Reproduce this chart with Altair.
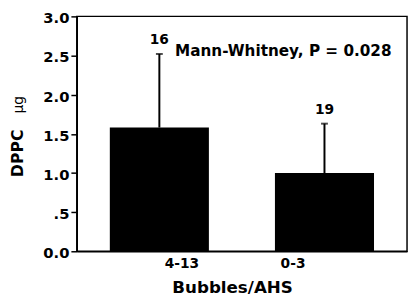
import altair as alt
import pandas as pd

# ---- data ----
groups = ["4-13", "0-3"]
means = [1.58, 1.00]
err_tops = [2.52, 1.63]
n_labels = ["16", "19"]
y_ticks = [0.0, 0.5, 1.0, 1.5, 2.0, 2.5, 3.0]
annotation = ["Mann-Whitney, P = 0.028"]
y_title_main = ["DPPC"]
y_title_unit = ["μg"]

df = pd.DataFrame({"group": groups, "mean": means, "top": err_tops, "n": n_labels})

FONT = "DejaVu Sans"
W, H = 336, 239

x_axis = alt.Axis(
    title="Bubbles/AHS",
    labelAngle=0,
    ticks=False,
    labelPadding=6,
    labelOffset={"condition": {"test": "datum.value == '4-13'", "value": 23}, "value": -32},
    titlePadding=9,
    titleX=158,
    titleFontSize=17,
    labelFontSize=14,
)
x_scale = alt.Scale(paddingInner=0.4, paddingOuter=0.2)

y_axis = alt.Axis(
    title=None,
    values=y_ticks,
    labelExpr="datum.value == 0.5 ? '.5' : format(datum.value, '.1f')",
    labelOverlap=False,
    grid=False,
    tickSize=6,
    tickWidth=1.5,
    tickColor="black",
    labelPadding=2,
    labelOffset=1.5,
    labelFontSize=15,
)
y_scale = alt.Scale(domain=[0, 3], nice=False, zero=True)


def X():
    return alt.X("group:N", sort=groups, scale=x_scale, axis=x_axis)


def Y(field):
    return alt.Y(field, scale=y_scale, axis=y_axis)


base = alt.Chart(df)

bars = base.mark_bar(color="black").encode(x=X(), y=Y("mean:Q"))
rules = base.mark_rule(color="black", strokeWidth=2).encode(
    x=X(), y=Y("mean:Q"), y2="top:Q"
)
caps = base.mark_tick(color="black", size=7, thickness=2).encode(x=X(), y=Y("top:Q"))
ns = base.mark_text(font=FONT, fontWeight="bold", fontSize=14, color="black", dy=-14).encode(
    x=X(), y=Y("top:Q"), text="n:N"
)

ann = alt.Chart(pd.DataFrame({"t": annotation})).mark_text(
    font=FONT, fontWeight="bold", fontSize=15.5, color="black", align="left", baseline="middle"
).encode(x=alt.value(100), y=alt.datum(2.56, scale=y_scale, axis=y_axis), text="t:N")

ytitle1 = alt.Chart(pd.DataFrame({"t": y_title_main})).mark_text(
    font=FONT, fontWeight="bold", fontSize=16, color="black", angle=270,
    align="center", baseline="alphabetic"
).encode(x=alt.value(-55), y=alt.value(H * 0.583), text="t:N")

ytitle2 = alt.Chart(pd.DataFrame({"t": y_title_unit})).mark_text(
    font=FONT, fontWeight="normal", fontSize=14, color="black", angle=270,
    align="center", baseline="alphabetic"
).encode(x=alt.value(-55), y=alt.value(H * 0.376), text="t:N")

chart = (
    alt.layer(bars, rules, caps, ns, ann, ytitle1, ytitle2)
    .properties(width=W, height=H, padding={"left": 2, "top": 0, "right": 2, "bottom": 0})
    .configure_view(stroke="black", strokeWidth=1.5)
    .configure_axis(
        labelFont=FONT,
        titleFont=FONT,
        labelFontWeight="bold",
        titleFontWeight="bold",
        labelColor="black",
        titleColor="black",
        domainColor="black",
        domainWidth=1.5,
    )
)

chart.save("out.html", embed_options={"renderer": "svg", "actions": False})
